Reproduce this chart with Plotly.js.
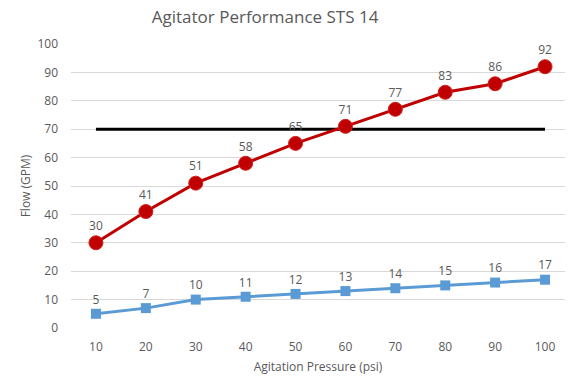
<!DOCTYPE html>
<html><head><meta charset="utf-8">
<script src="https://cdn.plot.ly/plotly-3.0.1.min.js"></script>
<style>html,body{margin:0;padding:0;background:#fff}#c{width:570px;height:379px}</style>
</head><body><div id="c"></div>
<script>
const pressure = [10, 20, 30, 40, 50, 60, 70, 80, 90, 100];
const flowRed = [30, 41, 51, 58, 65, 71, 77, 83, 86, 92];
const flowBlue = [5, 7, 10, 11, 12, 13, 14, 15, 16, 17];
const targetFlow = [70, 70, 70, 70, 70, 70, 70, 70, 70, 70];

const fontFam = '"Open Sans", "Noto Sans", sans-serif';
const gray = '#595959';

const traces = [
  {x: pressure, y: targetFlow, mode: 'lines', line: {color: '#000000', width: 3}, hoverinfo: 'skip'},
  {x: pressure, y: flowBlue, mode: 'lines+markers+text', text: flowBlue.map(String),
   textposition: 'top center', textfont: {family: fontFam, size: 12, color: gray},
   line: {color: '#5B9BD5', width: 3}, marker: {symbol: 'square', size: 10, color: '#5B9BD5'}},
  {x: pressure, y: flowRed, mode: 'lines+markers+text', text: flowRed.map(String),
   textposition: 'top center', textfont: {family: fontFam, size: 12, color: gray},
   line: {color: '#C00000', width: 3}, marker: {symbol: 'circle', size: 14, color: '#C00000', line: {color: '#D42020', width: 1}}}
];

const layout = {
  width: 570, height: 379,
  margin: {l: 71, r: 5, t: 44, b: 51},
  paper_bgcolor: '#ffffff', plot_bgcolor: '#ffffff',
  showlegend: false,
  font: {family: fontFam, color: gray, size: 12},
  title: {text: 'Agitator Performance STS 14', x: 0.465, xanchor: 'center', y: 0.955, yanchor: 'middle',
          font: {family: fontFam, size: 17, color: gray}},
  xaxis: {range: [5, 104], tickvals: pressure, ticktext: pressure.map(String), showgrid: false, zeroline: false,
          showline: false, ticks: '', ticklabelstandoff: 10, tickfont: {size: 12, color: gray},
          title: {text: 'Agitation Pressure (psi)', font: {size: 12, color: gray}, standoff: 8}},
  yaxis: {range: [0, 100], dtick: 10, showgrid: true, gridcolor: '#D9D9D9', gridwidth: 1, zeroline: false,
          showline: false, ticks: '', ticklabelstandoff: 12, tickfont: {size: 12, color: gray},
          title: {text: 'Flow (GPM)', font: {size: 12, color: gray}, standoff: 4}}
};

Plotly.newPlot('c', traces, layout, {staticPlot: true, displayModeBar: false});
</script></body></html>
